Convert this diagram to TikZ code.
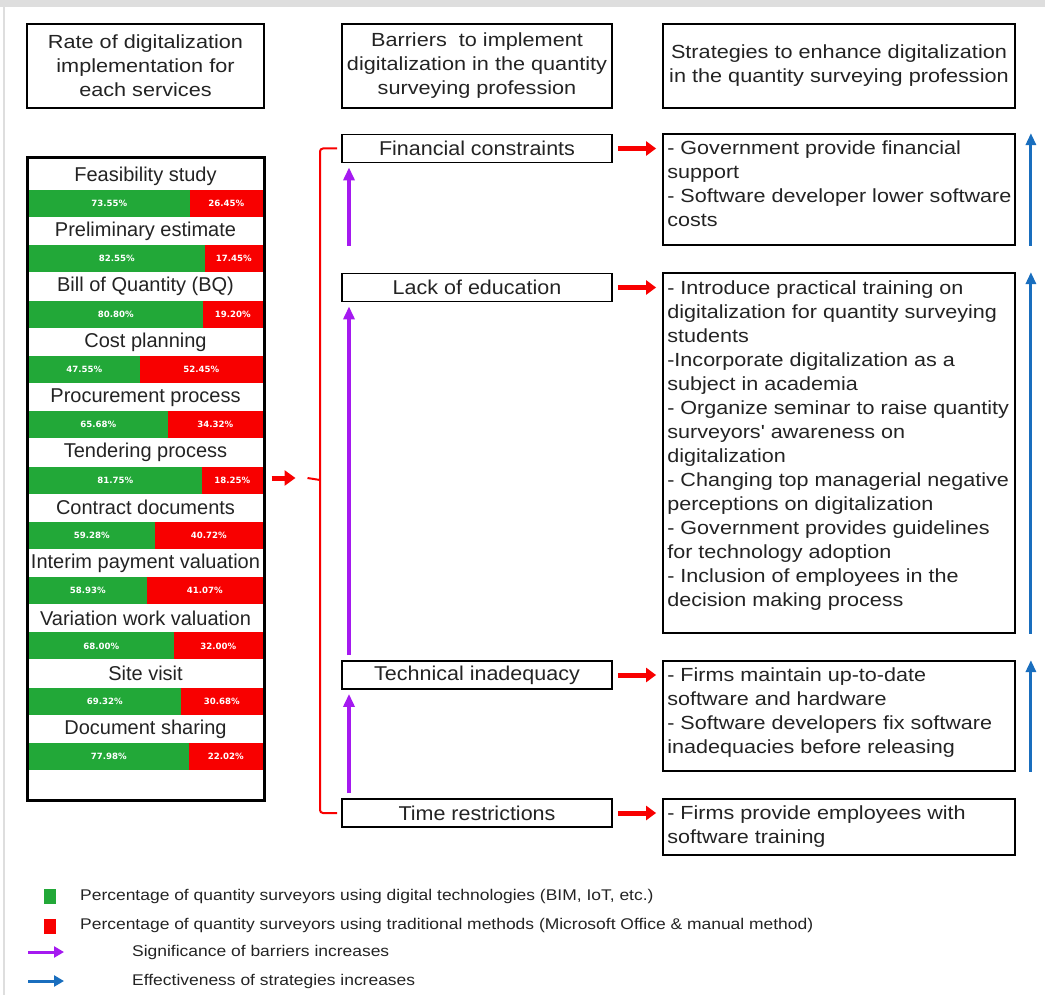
\documentclass[tikz,border=0pt]{standalone}
\usepackage{fontspec}
\setmainfont{Liberation Sans}
\newfontfamily\wideS[FakeStretch=1.135]{Liberation Sans}
\newfontfamily\wideH[FakeStretch=1.14]{Liberation Sans}
\newfontfamily\wideB[FakeStretch=1.075]{Liberation Sans}
\newfontfamily\wideL[FakeStretch=1.126]{Liberation Sans}
\newfontfamily\pctfont{DejaVu Sans}
\usetikzlibrary{calc,arrows.meta}
\definecolor{qgreen}{RGB}{34,168,56}
\definecolor{qred}{RGB}{248,0,0}
\definecolor{qpurple}{RGB}{165,25,240}
\definecolor{qblue}{RGB}{25,110,190}
\definecolor{txt}{RGB}{35,35,35}
\definecolor{frame}{RGB}{222,222,222}
\tikzset{
  hdr/.style={draw=black, line width=1.8, text=txt, align=center, inner sep=0,
    font=\wideH\fontsize{19}{24}\selectfont, minimum height=84},
  barrier/.style={draw=black, line width=1.8, text=txt, inner sep=0,
    font=\wideB\fontsize{20}{24}\selectfont, minimum width=270, minimum height=28},
  stratbox/.style={draw=black, line width=1.8, inner sep=0, minimum width=352},
  strattext/.style={text=txt, align=left, inner sep=0, anchor=north west,
    font=\wideS\fontsize{19}{24}\selectfont},
  rowlabel/.style={text=txt, inner sep=0, font=\fontsize{20}{24}\selectfont},
  pct/.style={text=white, inner sep=0, font=\pctfont\bfseries\fontsize{8.6}{10}\selectfont},
  redarrow/.style={draw=qred, line width=5, -{Triangle[length=10pt,width=14pt]}},
  purplearrow/.style={draw=qpurple, line width=3.4, -{Triangle[length=13pt,width=11pt]}},
  bluearrow/.style={draw=qblue, line width=3, -{Triangle[length=12pt,width=10pt]}},
  legtext/.style={text=txt, inner sep=0, anchor=west, font=\wideL\fontsize{15.5}{18}\selectfont},
}
\begin{document}
\begin{tikzpicture}[x=1pt,y=-1pt]
\useasboundingbox (0,0) rectangle (1045,995);
% outer frame
\fill[frame] (0,0) rectangle (1045,7);
\draw[frame, line width=2] (4,7) -- (4,995);

% headers
\node[hdr, minimum width=237] (h1) at (145.5,66) {Rate of digitalization\\implementation for\\each services};
\node[hdr, minimum width=270] (h2) at (477,66) {Barriers\ \ to implement\\digitalization in the quantity\\surveying profession};
\node[hdr, minimum width=352] (h3) at (839,66) {Strategies to enhance digitalization\\in the quantity surveying profession};

% left panel rows
\foreach [count=\i from 0] \lab/\rs/\g/\r in {
  {Feasibility study}/190/73.55/26.45,
  {Preliminary estimate}/205/82.55/17.45,
  {Bill of Quantity (BQ)}/203/80.80/19.20,
  {Cost planning}/140/47.55/52.45,
  {Procurement process}/168/65.68/34.32,
  {Tendering process}/202/81.75/18.25,
  {Contract documents}/155/59.28/40.72,
  {Interim payment valuation}/147/58.93/41.07,
  {Variation work valuation}/174/68.00/32.00,
  {Site visit}/181/69.32/30.68,
  {Document sharing}/189/77.98/22.02}{
  \pgfmathsetmacro{\ly}{176+55.3*\i}
  \pgfmathsetmacro{\by}{190+55.3*\i}
  \pgfmathsetmacro{\bm}{\by+13.5}
  \node[rowlabel] (lab\i) at (145.5,\ly) {\lab};
  \fill[qgreen] (28.5,\by) rectangle (\rs,\by+27);
  \fill[qred] (\rs,\by) rectangle (262.5,\by+27);
  \node[pct] (pg\i) at ({(28.5+\rs)/2},\bm) {\g\%};
  \node[pct] (pr\i) at ({(262.5+\rs)/2},\bm) {\r\%};
}
\node[draw=black, line width=3, minimum width=237, minimum height=642, inner sep=0] (panel) at (145.5,479) {};

% barriers
\node[barrier] (fin) at (477,148.5) {Financial constraints};
\node[barrier] (edu) at (477,287.5) {Lack of education};
\node[barrier] (tech) at (477,675) {Technical inadequacy};
\node[barrier] (time) at (477,813) {Time restrictions};

% strategies
\node[stratbox, minimum height=111] (s1) at (839,189.5) {};
\node[stratbox, minimum height=360] (s2) at (839,453) {};
\node[stratbox, minimum height=110] (s3) at (839,716) {};
\node[stratbox, minimum height=56] (s4) at (839,827) {};
\node[strattext] (t1) at ($(s1.north west)+(5,7)$) {- Government provide financial\\support\\- Software developer lower software\\costs};
\node[strattext] (t2) at ($(s2.north west)+(5,8)$) {- Introduce practical training on\\digitalization for quantity surveying\\students\\-Incorporate digitalization as a\\subject in academia\\- Organize seminar to raise quantity\\surveyors' awareness on\\digitalization\\- Changing top managerial negative\\perceptions on digitalization\\- Government provides guidelines\\for technology adoption\\- Inclusion of employees in the\\decision making process};
\node[strattext] (t3) at ($(s3.north west)+(5,7)$) {- Firms maintain up-to-date\\software and hardware\\- Software developers fix software\\inadequacies before releasing};
\node[strattext] (t4) at ($(s4.north west)+(5,7)$) {- Firms provide employees with\\software training};

% red connectors barrier -> strategy
\foreach \b/\s in {fin/s1, edu/s2, tech/s3, time/s4}{
  \draw[redarrow] ([xshift=5]\b.east) -- ([xshift=-6]\b.east -| \s.west);
}

% bracket
\coordinate (bx) at (320,480);
\draw[qred, line width=2, rounded corners=3] ([xshift=-4]fin.west) -| (bx) |- ([xshift=-4]time.west);
\draw[qred, line width=5, -{Triangle[length=11pt,width=15pt]}] ([xshift=6,yshift=1]panel.east) -- ([xshift=30,yshift=1]panel.east);
\draw[qred, line width=2] ([xshift=42,yshift=1]panel.east) -- (bx);

% purple arrows (significance of barriers)
\coordinate (p1) at (349,246);
\coordinate (p2) at (349,655);
\coordinate (p3) at (349,793);
\draw[purplearrow] (p1) -- ([yshift=-4]fin.south -| p1);
\draw[purplearrow] (p2) -- ([yshift=-4]edu.south -| p2);
\draw[purplearrow] (p3) -- ([yshift=-4]tech.south -| p3);

% blue arrows (effectiveness of strategies)
\draw[bluearrow] ($(s1.south east)+(15,0)$) -- ($(s1.north east)+(15,0)$);
\draw[bluearrow] ($(s2.south east)+(15,0)$) -- ($(s2.north east)+(15,0)$);
\draw[bluearrow] ($(s3.south east)+(15,0)$) -- ($(s3.north east)+(15,0)$);

% legend
\node[fill=qgreen, minimum width=12, minimum height=15, inner sep=0] (lg) at (50,896.5) {};
\node[fill=qred, minimum width=12, minimum height=15, inner sep=0] (lr) at (50,926) {};
\node[legtext] (lgt) at (80,896) {Percentage of quantity surveyors using digital technologies (BIM, IoT, etc.)};
\node[legtext] (lrt) at (80,925) {Percentage of quantity surveyors using traditional methods (Microsoft Office \& manual method)};
\coordinate (lp1) at (28,952);
\coordinate (lp2) at (64,952);
\coordinate (lb1) at (28,981);
\coordinate (lb2) at (64,981);
\draw[draw=qpurple, line width=3, -{Triangle[length=10pt,width=11pt]}] (lp1) -- (lp2);
\draw[draw=qblue, line width=3, -{Triangle[length=10pt,width=11pt]}] (lb1) -- (lb2);
\node[legtext] (lpt) at (132,952) {Significance of barriers increases};
\node[legtext] (lbt) at (132,981) {Effectiveness of strategies increases};
\end{tikzpicture}
\end{document}
